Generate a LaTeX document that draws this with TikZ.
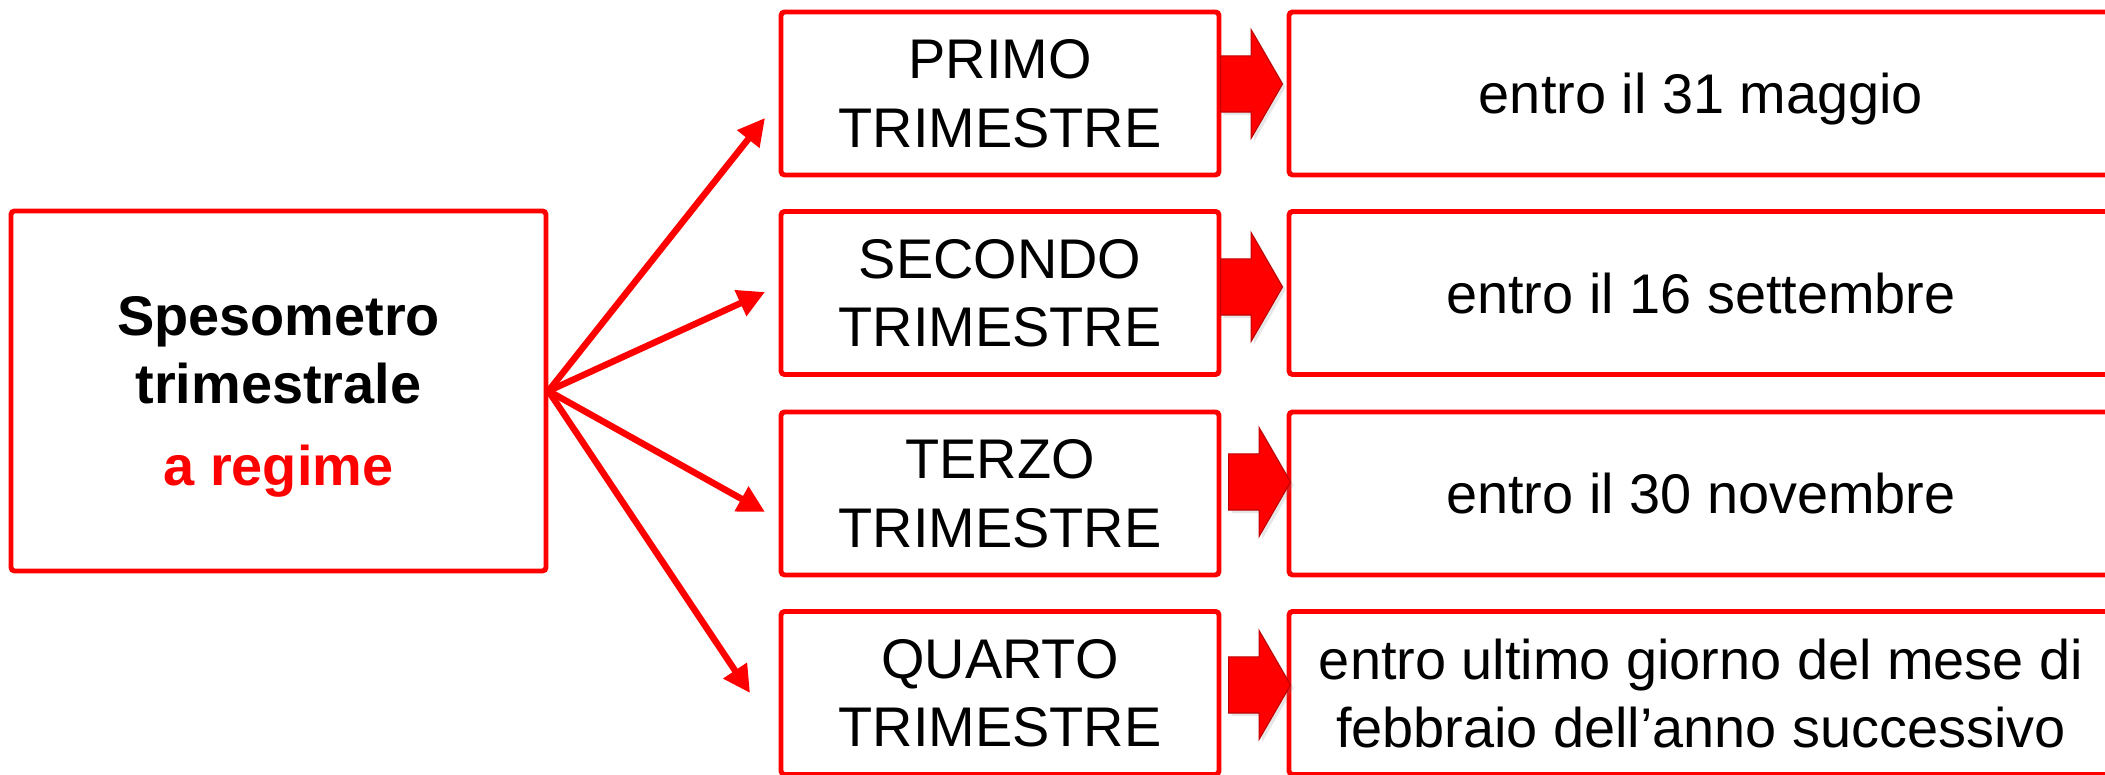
\documentclass[tikz,border=0pt]{standalone}
\usepackage{fontspec}
\setmainfont{Liberation Sans}
\usetikzlibrary{shapes,arrows.meta,positioning,shadows}

\begin{document}
\begin{tikzpicture}[
    box/.style={rectangle, draw=red, line width=1.4pt, rounded corners=1pt,
                minimum height=1.63cm, align=center, inner sep=0pt, text depth=0pt,
                font=\fontsize{15.9}{19.4}\selectfont},
    quarter/.style={box, minimum width=4.38cm},
    deadline/.style={box, minimum width=8.24cm},
    spoke/.style={-{Triangle[length=0.27cm, width=0.27cm]}, draw=red, line width=0.065cm},
    fat_arrow/.style={single arrow, fill=red, draw=red!75!black, line width=0.3pt,
                      inner sep=0pt, inner ysep=0.275cm, minimum height=0.62cm,
                      minimum width=1.08cm, single arrow tip angle=120,
                      single arrow head extend=0.265cm, anchor=tail,
                      drop shadow={opacity=0.2, shadow xshift=0.03cm, shadow yshift=-0.03cm}}
  ]
  \useasboundingbox (0,0) rectangle (21.05,7.75);
  \clip (0,0) rectangle (21.05,7.75);

  % Main box on the left
  \node[box, minimum width=5.35cm, minimum height=3.60cm,
        font=\fontsize{15.9}{19.4}\selectfont\bfseries] (spes) at (2.785, 3.84)
        {Spesometro\\ trimestrale\\[0.14cm] \textcolor{red}{a regime}};

  % Quarters column
  \node[quarter] (q1) at (10.00, 6.815) {PRIMO\\TRIMESTRE};
  \node[quarter] (q2) at (10.00, 4.82) {SECONDO\\TRIMESTRE};
  \node[quarter] (q3) at (10.00, 2.815) {TERZO\\TRIMESTRE};
  \node[quarter] (q4) at (10.00, 0.82) {QUARTO\\TRIMESTRE};

  % Deadlines column (runs off the right edge)
  \node[deadline] (d1) at (17.01, 6.815) {entro il 31 maggio};
  \node[deadline] (d2) at (17.01, 4.82) {entro il 16 settembre};
  \node[deadline] (d3) at (17.01, 2.815) {entro il 30 novembre};
  \node[deadline] (d4) at (17.01, 0.82) {entro ultimo giorno del mese di\\febbraio dell’anno successivo};

  % Arrow ends in front of the quarters
  \coordinate (t1) at (7.65, 6.57);
  \coordinate (t2) at (7.65, 4.83);
  \coordinate (t3) at (7.65, 2.63);
  \coordinate (t4) at (7.50, 0.82);

  % Fan of arrows out of the main box
  \draw[spoke] (spes.east) -- (t1);
  \draw[spoke] (spes.east) -- (t2);
  \draw[spoke] (spes.east) -- (t3);
  \draw[spoke] (spes.east) -- (t4);

  % Block arrows quarter -> deadline
  \node[fat_arrow] (f1) at (12.20, 6.91) {};
  \node[fat_arrow] (f2) at (12.20, 4.88) {};
  \node[fat_arrow] (f3) at (12.28, 2.93) {};
  \node[fat_arrow] (f4) at (12.28, 0.90) {};

\end{tikzpicture}
\end{document}
